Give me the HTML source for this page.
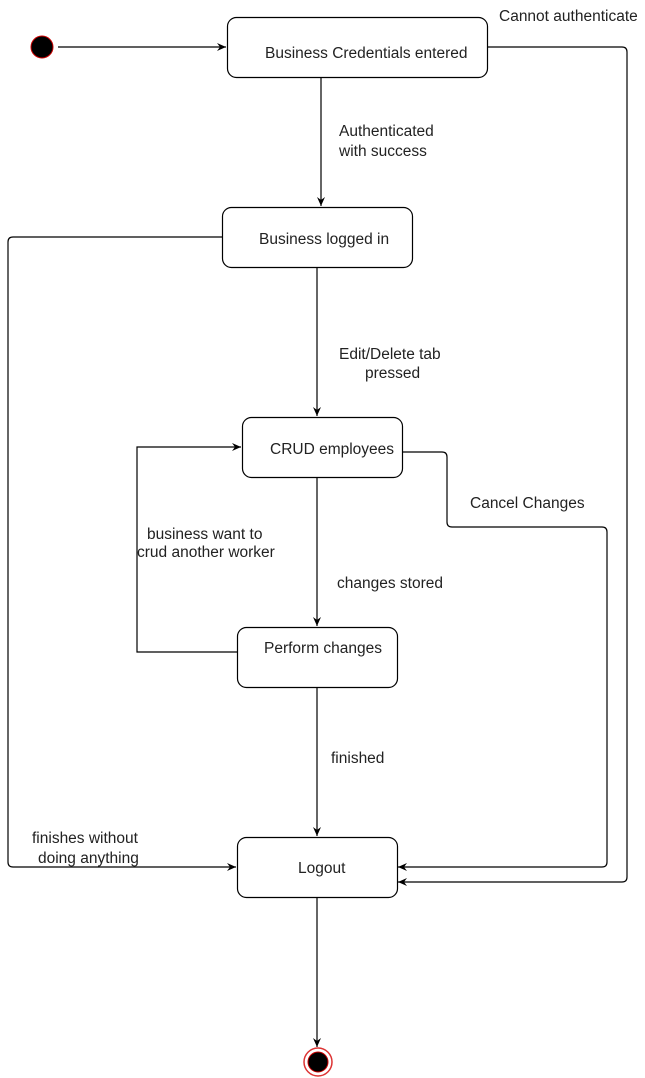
<!DOCTYPE html>
<html><head><style>
html,body{margin:0;padding:0;background:#fff;}
svg{display:block;}
text{font-family:"Liberation Sans",Arial,sans-serif;font-size:15.5px;fill:#222;}
</style></head><body>
<svg width="645" height="1078" viewBox="0 0 645 1078" xmlns="http://www.w3.org/2000/svg">
<defs>
<marker id="a" markerWidth="10" markerHeight="10" refX="9" refY="5" orient="auto" markerUnits="userSpaceOnUse">
<path d="M0,1 L9,5 L0,9 L3,5 Z" fill="#000"/>
</marker>
</defs>
<g fill="none" stroke="#000" stroke-width="1.2">
<rect x="227.5" y="17.5" width="260" height="60" rx="9"/>
<rect x="222.5" y="207.5" width="190" height="60" rx="9"/>
<rect x="242.5" y="417.5" width="160" height="60" rx="9"/>
<rect x="237.5" y="627.5" width="160" height="60" rx="9"/>
<rect x="237.5" y="837.5" width="160" height="60" rx="9"/>
<path d="M58,47 H226" marker-end="url(#a)"/>
<path d="M487,47 H622 Q627,47 627,52 V877 Q627,882 622,882 H398" marker-end="url(#a)"/>
<path d="M321,77 V206" marker-end="url(#a)"/>
<path d="M317,267 V416" marker-end="url(#a)"/>
<path d="M222,237 H13 Q8,237 8,242 V862 Q8,867 13,867 H236" marker-end="url(#a)"/>
<path d="M402,452 H442 Q447,452 447,457 V522 Q447,527 452,527 H602 Q607,527 607,532 V862 Q607,867 602,867 H398" marker-end="url(#a)"/>
<path d="M317,477 V626" marker-end="url(#a)"/>
<path d="M237,652 H137 V447 H241" marker-end="url(#a)"/>
<path d="M317,687 V836" marker-end="url(#a)"/>
<path d="M317,897 V1047" marker-end="url(#a)"/>
</g>
<circle cx="42" cy="47" r="11" fill="#000" stroke="#c00" stroke-width="1"/>
<circle cx="318" cy="1062" r="14" fill="#fff" stroke="#d33" stroke-width="1.5"/>
<circle cx="318" cy="1062" r="10" fill="#000" stroke="#c00" stroke-width="1"/>
<text x="265" y="58">Business Credentials entered</text>
<text x="259" y="244">Business logged in</text>
<text x="270" y="454">CRUD employees</text>
<text x="264" y="653">Perform changes</text>
<text x="298" y="873">Logout</text>
<text x="499" y="21">Cannot authenticate</text>
<text x="339" y="136">Authenticated</text>
<text x="339" y="156">with success</text>
<text x="339" y="359">Edit/Delete tab</text>
<text x="365" y="378">pressed</text>
<text x="470" y="508">Cancel Changes</text>
<text x="147" y="539">business want to</text>
<text x="137" y="557">crud another worker</text>
<text x="337" y="588">changes stored</text>
<text x="331" y="763">finished</text>
<text x="32" y="843">finishes without</text>
<text x="38" y="863">doing anything</text>
</svg>
</body></html>
